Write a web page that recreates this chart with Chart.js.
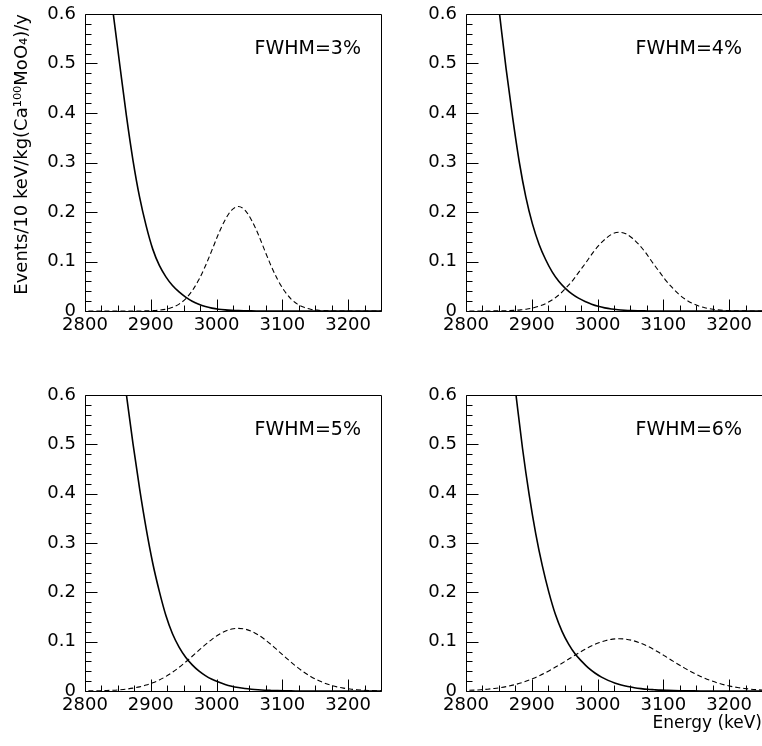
<!DOCTYPE html>
<html><head><meta charset="utf-8">
<script src="https://cdn.jsdelivr.net/npm/chart.js@4.4.1/dist/chart.umd.min.js"></script>
<style>
html,body{margin:0;padding:0;background:#fff;overflow:hidden;width:762px;height:746px;position:relative;}
canvas{position:absolute;}
</style></head><body>
<canvas id="c0" width="400" height="370" style="left:0px;top:0px"></canvas>
<canvas id="c1" width="362" height="370" style="left:400px;top:0px"></canvas>
<canvas id="c2" width="400" height="376" style="left:0px;top:370px"></canvas>
<canvas id="c3" width="362" height="376" style="left:400px;top:370px"></canvas>
<script>
// ---- data ----
// dashed signal peaks (energies in keV)
const energies = [2793,2803,2813,2823,2833,2843,2853,2863,2873,2883,2893,2903,2913,2923,2933,2943,2953,2963,2973,2983,2993,3003,3013,3023,3033,3043,3053,3063,3073,3083,3093,3103,3113,3123,3133,3143,3153,3163,3173,3183,3193,3203,3213,3223,3233,3243,3253];
const peak3 = [0,0,0,0,0,0,0,0,0,0.0001,0.0003,0.0007,0.0017,0.0036,0.0074,0.0139,0.0246,0.041,0.063,0.091,0.123,0.156,0.184,0.204,0.211,0.204,0.184,0.156,0.123,0.091,0.063,0.041,0.0246,0.0139,0.0074,0.0036,0.0017,0.0007,0.0003,0.0001,0,0,0,0,0,0,0];
const peak4 = [0,0,0,0,0.0001,0.0002,0.0004,0.0007,0.0013,0.0023,0.004,0.0066,0.0105,0.0162,0.0241,0.0345,0.048,0.063,0.081,0.099,0.118,0.134,0.147,0.156,0.159,0.156,0.147,0.134,0.118,0.099,0.081,0.063,0.048,0.0345,0.0241,0.0162,0.0105,0.0066,0.004,0.0023,0.0013,0.0007,0.0004,0.0002,0.0001,0,0];
const peak5 = [0.0001,0.0002,0.0004,0.0006,0.001,0.0016,0.0026,0.0039,0.0058,0.0084,0.012,0.0166,0.0224,0.0295,0.038,0.0478,0.0587,0.0704,0.0823,0.094,0.1047,0.114,0.121,0.1255,0.127,0.1255,0.121,0.114,0.1047,0.094,0.0823,0.0704,0.0587,0.0478,0.038,0.0295,0.0224,0.0166,0.012,0.0084,0.0058,0.0039,0.0026,0.0016,0.001,0.0006,0.0004];
const peak6 = [0.0009,0.0013,0.0018,0.0026,0.0037,0.0052,0.007,0.0094,0.0124,0.0161,0.0206,0.0258,0.0318,0.0385,0.0459,0.0538,0.062,0.0703,0.0784,0.086,0.0927,0.0983,0.1025,0.1051,0.106,0.1051,0.1025,0.0983,0.0927,0.086,0.0784,0.0703,0.062,0.0538,0.0459,0.0385,0.0318,0.0258,0.0206,0.0161,0.0124,0.0094,0.007,0.0052,0.0037,0.0026,0.0018];

// solid background curves
const bg3E = [2843,2853,2863,2873,2883,2893,2903,2913,2923,2933,2943,2953,2963,2973,2983,2993,3003,3013,3023,3033,3043,3053,3063,3073,3253];
const bg3V = [0.600,0.496,0.394,0.304,0.230,0.172,0.125,0.092,0.069,0.0515,0.0385,0.0281,0.0198,0.0136,0.0090,0.0058,0.0036,0.0022,0.0013,0.0007,0.0004,0.0002,0.0001,0,0];
const bg4E = [2851,2861,2871,2881,2891,2901,2911,2921,2931,2941,2951,2961,2971,2981,2991,3001,3011,3021,3031,3041,3051,3061,3071,3081,3091,3253];
const bg4V = [0.600,0.489,0.390,0.301,0.230,0.176,0.135,0.104,0.079,0.060,0.0458,0.0346,0.0259,0.0192,0.0138,0.0095,0.0063,0.0040,0.0025,0.0015,0.0008,0.0004,0.0002,0.0001,0,0];
const bg5E = [2863,2873,2883,2893,2903,2913,2923,2933,2943,2953,2963,2973,2983,2993,3003,3013,3023,3033,3043,3053,3063,3073,3083,3093,3103,3113,3123,3133,3253];
const bg5V = [0.600,0.501,0.410,0.329,0.259,0.202,0.153,0.116,0.089,0.0685,0.053,0.0408,0.0313,0.0238,0.0181,0.0134,0.0098,0.0071,0.0050,0.0035,0.0024,0.0016,0.0011,0.0007,0.0004,0.0002,0.0001,0,0];
const bg6E = [2876,2886,2896,2906,2916,2926,2936,2946,2956,2966,2976,2986,2996,3006,3016,3026,3036,3046,3056,3066,3076,3086,3096,3106,3116,3126,3136,3146,3156,3166,3253];
const bg6V = [0.600,0.491,0.398,0.319,0.254,0.200,0.155,0.121,0.095,0.075,0.0601,0.0468,0.0365,0.0281,0.0215,0.0162,0.0121,0.0090,0.0066,0.0048,0.0034,0.0025,0.0017,0.0012,0.0008,0.0005,0.0003,0.0002,0.0001,0,0];

const panelLabels = ['FWHM=3%','FWHM=4%','FWHM=5%','FWHM=6%'];
const xTickValues = [2800,2900,3000,3100,3200];
const yTickValues = [0,0.1,0.2,0.3,0.4,0.5,0.6];
const yAxisTitle = 'Events/10 keV/kg(Ca\u00B9\u2070\u2070MoO\u2084)/y';
const xAxisTitle = 'Energy (keV)';

// ---- layout / style ----
const FONT = "'DejaVu Sans', sans-serif";
const panels = [
  {id:'c0', cx:0,   cy:0,   w:400, h:370, l:85,  t:14,  r:381, b:311, bgE:bg3E, bgV:bg3V, peak:peak3, label:panelLabels[0], yTitle:true,  xTitle:false},
  {id:'c1', cx:400, cy:0,   w:362, h:370, l:466, t:14,  r:762, b:311, bgE:bg4E, bgV:bg4V, peak:peak4, label:panelLabels[1], yTitle:false, xTitle:false},
  {id:'c2', cx:0,   cy:370, w:400, h:376, l:85,  t:395, r:381, b:691, bgE:bg5E, bgV:bg5V, peak:peak5, label:panelLabels[2], yTitle:false, xTitle:false},
  {id:'c3', cx:400, cy:370, w:362, h:376, l:466, t:395, r:762, b:691, bgE:bg6E, bgV:bg6V, peak:peak6, label:panelLabels[3], yTitle:false, xTitle:true}
];

function makeFrame(p){
  return {
    id:'frame'+p.id,
    afterDraw(chart){
      const {ctx, chartArea:a, scales:{x, y}} = chart;
      ctx.save();
      ctx.strokeStyle = '#000';
      ctx.lineWidth = 1;
      const L = Math.round(a.left)+0.5, R = Math.round(a.right)+0.5, T = Math.round(a.top)+0.5, B = Math.round(a.bottom)+0.5;
      ctx.beginPath();
      ctx.rect(L, T, R-L, B-T);
      for (let e = 2800; e <= 3250; e += 25) {
        const px = Math.round(x.getPixelForValue(e))+0.5;
        const major = xTickValues.includes(e);
        ctx.moveTo(px, B); ctx.lineTo(px, B-(major?12:6));
      }
      for (let k = 0; k <= 30; k++) {
        const py = Math.round(y.getPixelForValue(k*0.02))+0.5;
        const major = k % 5 === 0;
        ctx.moveTo(L, py); ctx.lineTo(L+(major?12:6), py);
      }
      ctx.stroke();
      ctx.fillStyle = '#000';
      ctx.font = '19px ' + FONT;
      ctx.textAlign = 'right';
      ctx.textBaseline = 'middle';
      ctx.fillText(p.label, a.right-20, a.top+35);
      ctx.restore();
    }
  };
}

panels.forEach(p => {
  const ctx = document.getElementById(p.id).getContext('2d');
  new Chart(ctx, {
    type:'line',
    data:{datasets:[
      {data:p.bgE.map((x,i)=>({x:x, y:p.bgV[i]})), borderColor:'#000', borderWidth:1.6, pointRadius:0, cubicInterpolationMode:'monotone', fill:false},
      {data:energies.map((x,i)=>({x:x, y:p.peak[i]})), borderColor:'#000', borderWidth:1.1, borderDash:[5,3], pointRadius:0, cubicInterpolationMode:'monotone', fill:false}
    ]},
    options:{
      responsive:false, animation:false, devicePixelRatio:1,
      layout:{padding:{left:0, top:p.t-p.cy, right:p.cx+p.w-p.r, bottom:0}},
      plugins:{legend:{display:false}, tooltip:{enabled:false}},
      scales:{
        x:{type:'linear', min:2800, max:3250,
          grid:{display:false, drawTicks:false}, border:{display:false},
          afterBuildTicks:s=>{s.ticks = xTickValues.map(v=>({value:v}));},
          afterFit:s=>{s.height = p.cy+p.h-p.b; s.paddingLeft = 0; s.paddingRight = 0;},
          ticks:{font:{family:FONT, size:18}, color:'#000', padding:4, maxRotation:0, autoSkip:false, callback:v=>String(v)},
          title:{display:p.xTitle, text:xAxisTitle, align:'end', color:'#000', font:{family:FONT, size:17}, padding:{top:0, bottom:12}}
        },
        y:{type:'linear', min:0, max:0.6,
          grid:{display:false, drawTicks:false}, border:{display:false},
          afterBuildTicks:s=>{s.ticks = yTickValues.map(v=>({value:v}));},
          afterFit:s=>{s.width = p.l-p.cx; s.paddingTop = 0; s.paddingBottom = 0;},
          ticks:{font:{family:FONT, size:18}, color:'#000', padding:9, autoSkip:false, callback:v=>(v===0?'0':v.toFixed(1))},
          title:{display:p.yTitle, text:yAxisTitle, align:'end', color:'#000', font:{family:FONT, size:18}, padding:{top:12, bottom:0}}
        }
      }
    },
    plugins:[makeFrame(p)]
  });
});
</script>
</body></html>
